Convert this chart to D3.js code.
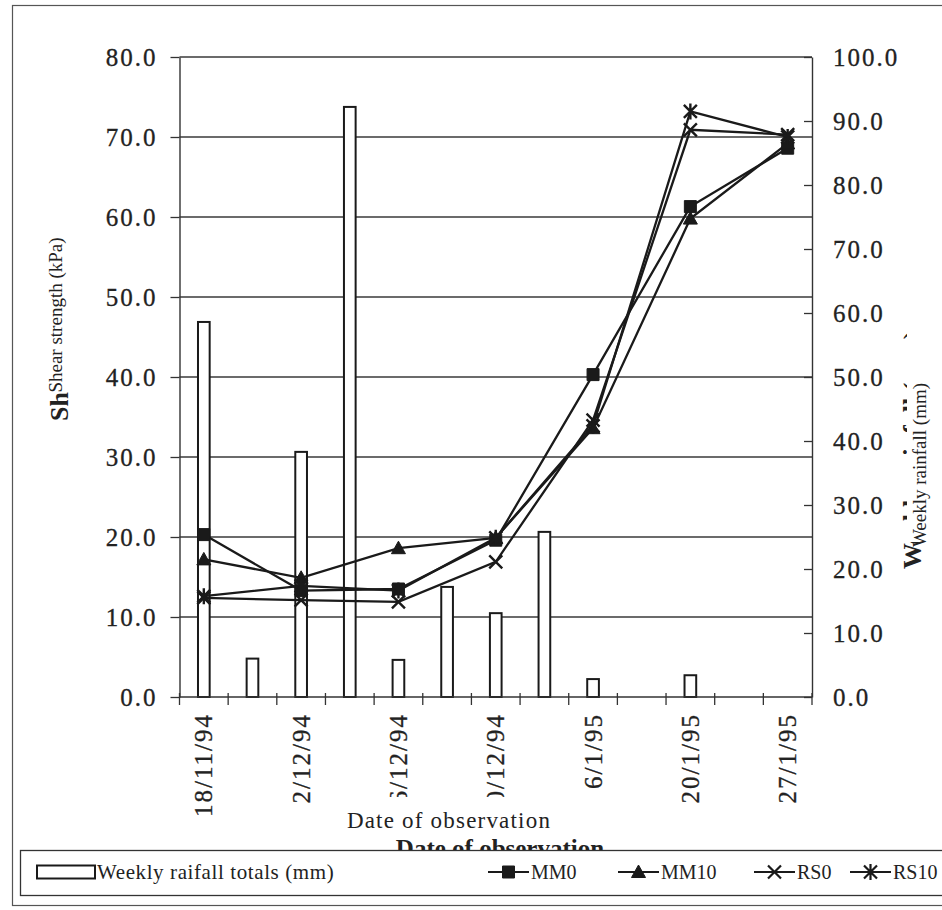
<!DOCTYPE html>
<html><head><meta charset="utf-8">
<script src="https://cdn.jsdelivr.net/npm/d3@7"></script>
<style>
html,body{margin:0;padding:0;background:#fff;}
svg{display:block;}
text{font-family:"Liberation Serif","Times New Roman",Times,serif;fill:#222;}
</style></head><body>
<svg id="chart" width="942" height="910"></svg>
<script>
// Observation slots (13 weekly columns); only every other slot is labelled
const weekLabels = ["18/11/94","","2/12/94","","16/12/94","","30/12/94","","6/1/95","","20/1/95","","27/1/95"];
// Weekly rainfall totals (mm), right axis
const rainfall = [58.6, 6.0, 38.3, 92.2, 5.8, 17.2, 13.1, 25.8, 2.8, null, 3.4, null, null];
// Shear strength (kPa), left axis
const mm0  = [20.3, null, 13.3, null, 13.5, null, 19.6, null, 40.3, null, 61.3, null, 68.6];
const mm10 = [17.2, null, 14.9, null, 18.6, null, 19.9, null, 33.6, null, 59.8, null, 69.2];
const rs0  = [12.4, null, 12.1, null, 11.9, null, 16.9, null, 34.6, null, 70.9, null, 70.3];
const rs10 = [12.6, null, 13.9, null, 13.3, null, 19.9, null, 33.9, null, 73.2, null, 70.0];
const leftTicks  = [0, 10, 20, 30, 40, 50, 60, 70, 80];
const rightTicks = [0, 10, 20, 30, 40, 50, 60, 70, 80, 90, 100];
const seriesNames = ["MM0", "MM10", "RS0", "RS10"];

const svg = d3.select("#chart");
const ink = "#1a1a1a";
const plot = {left: 179.5, right: 812, top: 57, bottom: 697};

const x = d3.scaleBand().domain(d3.range(weekLabels.length)).range([plot.left, plot.right]);
const cx = i => x(i) + x.bandwidth() / 2;
const yL = d3.scaleLinear().domain([0, 80]).range([plot.bottom, plot.top]);
const yR = d3.scaleLinear().domain([0, 100]).range([plot.bottom, plot.top]);

// outer chart frame
svg.append("rect").attr("x", 12.5).attr("y", 5.5).attr("width", 945).attr("height", 900)
  .attr("fill", "#fff").attr("stroke", "#555").attr("stroke-width", 1.2);

// horizontal gridlines
svg.append("g").selectAll("line").data(leftTicks.filter(t => t > 0)).join("line")
  .attr("x1", plot.left).attr("x2", plot.right)
  .attr("y1", d => yL(d)).attr("y2", d => yL(d))
  .attr("stroke", "#3a3a3a").attr("stroke-width", 1.3);

// rainfall columns (hollow)
const bw = x.bandwidth() * 0.24;
svg.append("g").selectAll("rect")
  .data(rainfall.map((v, i) => ({i, v})).filter(d => d.v != null))
  .join("rect")
  .attr("x", d => cx(d.i) - bw / 2).attr("width", bw)
  .attr("y", d => yR(d.v)).attr("height", d => yR(0) - yR(d.v))
  .attr("fill", "#fff").attr("stroke", ink).attr("stroke-width", 2);

const tickFont = g => g.selectAll("text")
  .style("font-family", '"Liberation Serif","Times New Roman",serif')
  .style("font-size", "25px").style("letter-spacing", "2px")
  .attr("fill", "#222").attr("stroke", "#222").attr("stroke-width", 0.3);

// left axis
const axL = svg.append("g").attr("transform", `translate(${plot.left},0)`)
  .call(d3.axisLeft(yL).tickValues(leftTicks).tickFormat(d3.format(".1f")).tickSize(9).tickSizeOuter(0).tickPadding(13));
axL.select(".domain").attr("stroke", "#333").attr("stroke-width", 1.4);
axL.selectAll(".tick line").attr("stroke", "#333").attr("stroke-width", 1.3);
axL.call(tickFont);

// right axis
const axR = svg.append("g").attr("transform", `translate(${plot.right},0)`)
  .call(d3.axisRight(yR).tickValues(rightTicks).tickFormat(d3.format(".1f")).tickSize(-8).tickSizeOuter(0).tickPadding(21));
axR.select(".domain").attr("stroke", "#333").attr("stroke-width", 1.4);
axR.selectAll(".tick line").attr("stroke", "#333").attr("stroke-width", 1.3);
axR.call(tickFont);

// bottom axis: line, ticks on column boundaries, rotated date labels
const bottom = svg.append("g");
bottom.append("line").attr("x1", plot.left).attr("x2", plot.right)
  .attr("y1", plot.bottom).attr("y2", plot.bottom).attr("stroke", "#333").attr("stroke-width", 1.4);
bottom.selectAll("line.tk").data(d3.range(weekLabels.length + 1)).join("line").attr("class", "tk")
  .attr("x1", i => plot.left + i * x.step()).attr("x2", i => plot.left + i * x.step())
  .attr("y1", plot.bottom - 4).attr("y2", plot.bottom + 8)
  .attr("stroke", "#333").attr("stroke-width", 1.3);
bottom.selectAll("text").data(weekLabels.map((t, i) => ({t, i})).filter(d => d.t)).join("text")
  .attr("transform", d => `translate(${cx(d.i)},${plot.bottom + 16}) rotate(-90)`)
  .attr("text-anchor", "end").attr("dominant-baseline", "central")
  .style("font-size", "25px").style("letter-spacing", "2px")
  .attr("stroke", "#222").attr("stroke-width", 0.3)
  .text(d => d.t);

// shear strength series
const series = [mm0, mm10, rs0, rs10];
const line = d3.line().x(d => cx(d.i)).y(d => yL(d.v));
const markerPath = {
  MM0: "M-6,-6H6V6H-6Z",
  MM10: "M0,-7L7,5.5L-7,5.5Z",
  RS0: "M-6.5,-6.5L6.5,6.5M6.5,-6.5L-6.5,6.5",
  RS10: "M-6.5,-6.5L6.5,6.5M6.5,-6.5L-6.5,6.5M0,-8V8"
};
const filled = {MM0: true, MM10: true, RS0: false, RS10: false};
series.forEach((vals, k) => {
  const name = seriesNames[k];
  const pts = vals.map((v, i) => ({i, v})).filter(d => d.v != null);
  svg.append("path").datum(pts).attr("d", line)
    .attr("fill", "none").attr("stroke", ink).attr("stroke-width", 2.3);
  svg.append("g").selectAll("path").data(pts).join("path")
    .attr("transform", d => `translate(${cx(d.i)},${yL(d.v)})`)
    .attr("d", markerPath[name])
    .attr("fill", filled[name] ? ink : "none")
    .attr("stroke", ink).attr("stroke-width", filled[name] ? 1 : 2.4);
});

// left axis title (bold title underneath, partly covered by the plain one)
svg.append("text").attr("transform", "translate(68,421) rotate(-90)")
  .style("font-size", "26px").style("font-weight", "bold").text("Shear strength (kPa)");
svg.append("rect").attr("x", 36).attr("y", 190).attr("width", 40).attr("height", 201).attr("fill", "#fff");
svg.append("text").attr("transform", "translate(62,315) rotate(-90)").attr("text-anchor", "middle")
  .style("font-size", "19px").text("Shear strength (kPa)");

// right axis title
svg.append("text").attr("transform", "translate(921,569) rotate(-90)")
  .style("font-size", "26px").style("font-weight", "bold").text("Weekly rainfall (mm)");
svg.append("rect").attr("x", 907).attr("y", 240).attr("width", 34).attr("height", 302).attr("fill", "#fff");
svg.append("text").attr("transform", "translate(926,465) rotate(-90)").attr("text-anchor", "middle")
  .style("font-size", "19px").text("Weekly rainfall (mm)");

// x axis title
svg.append("text").attr("x", 500).attr("y", 857).attr("text-anchor", "middle")
  .style("font-size", "25px").style("font-weight", "bold").text("Date of observation");
svg.append("rect").attr("x", 340).attr("y", 797).attr("width", 220).attr("height", 36).attr("fill", "#fff");
svg.append("text").attr("x", 449).attr("y", 828).attr("text-anchor", "middle")
  .style("font-size", "23px").style("letter-spacing", "1.2px").text("Date of observation");

// legend
const lg = svg.append("g");
lg.append("rect").attr("x", 20.5).attr("y", 850.5).attr("width", 930).attr("height", 45)
  .attr("fill", "#fff").attr("stroke", "#333").attr("stroke-width", 1.3);
const ly = 872;
lg.append("rect").attr("x", 37).attr("y", ly - 6.5).attr("width", 58).attr("height", 13)
  .attr("fill", "#fff").attr("stroke", ink).attr("stroke-width", 2);
lg.append("text").attr("x", 97).attr("y", ly + 7).style("font-size", "21px").style("letter-spacing", "0.6px")
  .text("Weekly raifall totals (mm)");
const legendX = [488, 618, 754, 850];
seriesNames.forEach((name, k) => {
  const x0 = legendX[k];
  lg.append("line").attr("x1", x0).attr("x2", x0 + 41).attr("y1", ly).attr("y2", ly)
    .attr("stroke", ink).attr("stroke-width", 2);
  lg.append("path").attr("transform", `translate(${x0 + 20.5},${ly})`).attr("d", markerPath[name])
    .attr("fill", filled[name] ? ink : "none").attr("stroke", ink).attr("stroke-width", filled[name] ? 1 : 2.2);
  lg.append("text").attr("x", x0 + 43).attr("y", ly + 7).style("font-size", "20px").text(name);
});
</script>
</body></html>
